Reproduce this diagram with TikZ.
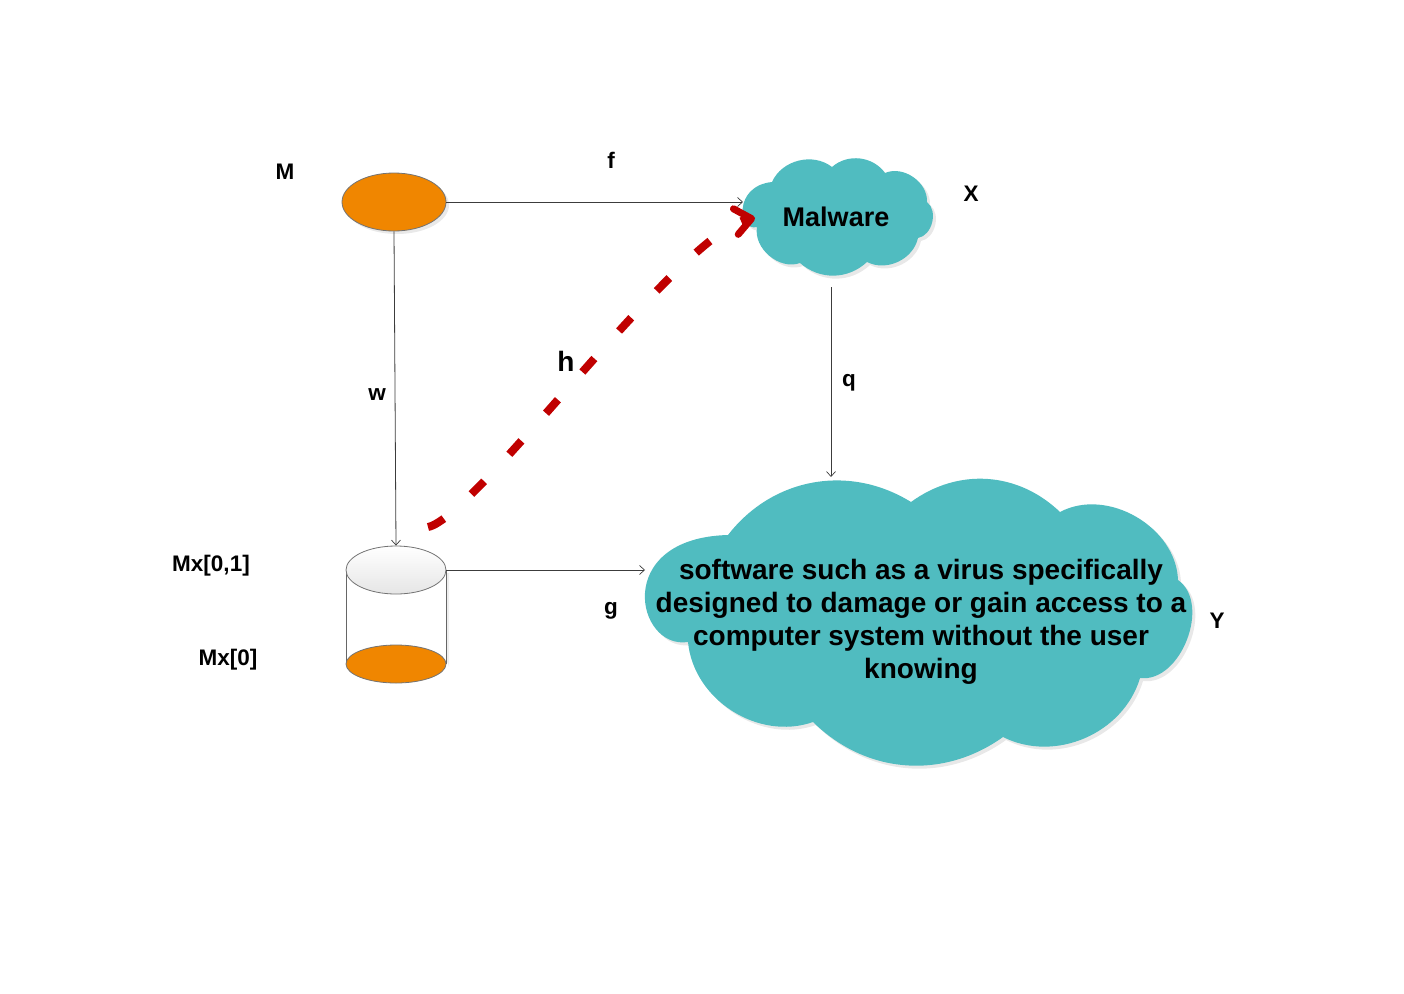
\documentclass[tikz,border=0pt]{standalone}
\usepackage{fontspec}
\setmainfont{Liberation Sans}
\usetikzlibrary{shapes.geometric,arrows.meta,shadows}
\definecolor{orng}{RGB}{240,134,0}
\definecolor{tealc}{RGB}{80,188,192}
\definecolor{dred}{RGB}{192,0,0}
\definecolor{lnc}{RGB}{60,60,60}
\newcommand\bigcloudpath{(728,535) to[bend left=42] (911,502) to[bend left=40] (1060,512)
  to[bend left=58] (1178,580) to[bend left=76] (1140,678) to[bend left=50] (1003,737)
  to[bend left=40] (813,722) to[bend left=52] (688,642) .. controls (636,650) and (612,538) .. cycle}
\newcommand\malcloudpath{(772,182) to[bend left=52] (832,167) to[bend left=48] (885,173)
  to[bend left=58] (927,202) to[bend left=66] (918,238) to[bend left=52] (867,262)
  to[bend left=42] (800,263) to[bend left=60] (757,227) .. controls (738,232) and (733,186) .. cycle}
\tikzset{
  lbl/.style={font=\fontsize{22.5}{26}\selectfont\bfseries, inner sep=0pt},
  conn/.style={draw=lnc, line width=0.8pt, -{Straight Barb[length=5pt,width=9pt,line width=0.7pt]}},
  cloudfill/.style={fill=tealc},
  cloudshadow/.style={fill=black!18, opacity=0.5},
  oval/.style={ellipse, draw=black!55, line width=0.8pt, fill=orng,
     drop shadow={shadow xshift=3pt, shadow yshift=-3pt, fill=black!25, opacity=0.35}},
}
\begin{document}
\begin{tikzpicture}[x=1pt,y=-1pt]
\useasboundingbox (0,0) rectangle (1404,993);
% M ellipse
\node[oval, minimum width=104, minimum height=58, inner sep=0pt] (m) at (394,202) {};
% Malware cloud
\fill[cloudshadow, shift={(3,3)}] \malcloudpath;
\fill[cloudfill] \malcloudpath;
\node[font=\fontsize{27}{32}\selectfont\bfseries, inner sep=0pt] (mal) at (836,217) {Malware};
% Big cloud
\fill[cloudshadow, shift={(3,3)}] \bigcloudpath;
\fill[cloudfill] \bigcloudpath;
\node[inner sep=0pt, align=center, font=\fontsize{28}{33}\selectfont\bfseries] (big) at (921,622)
  {software such as a virus specifically\\designed to damage or gain access to a\\computer system without the user\\knowing};
% cylinder
\fill[black!20, opacity=0.35] (349,573) -- (349,667) arc[start angle=180,end angle=360,x radius=50,y radius=19] -- (449,573) -- cycle;
\fill[white] (346,570) -- (346,664) arc[start angle=180,end angle=360,x radius=50,y radius=19] -- (446,570) -- cycle;
\draw[black!60, line width=0.8pt] (346,570) -- (346,664) (446,570) -- (446,664);
\draw[black!55, line width=0.8pt, fill=orng] (396,664) ellipse[x radius=50, y radius=19];
\node[ellipse, minimum width=100, minimum height=48, inner sep=0pt, draw=black!55, line width=0.8pt,
  top color=white, bottom color=black!10] (cyl) at (396,570) {};
% connector end points on the cloud outlines
\coordinate (malW) at (743,202);
\coordinate (malS) at (831,287);
\coordinate (bigN) at (831,477);
\coordinate (bigW) at (645,570);
% connectors
\draw[conn] (m.east) -- (malW);
\draw[conn] (m.south) -- (cyl.north);
\draw[conn] (cyl.east) -- (bigW);
\draw[conn] (malS) -- (bigN);
% red dashed
\coordinate (hs) at (428,527);
\coordinate (he) at (755,218);
\draw[dred, line width=8pt, dash pattern=on 18pt off 37pt,
  -{Straight Barb[length=16pt,width=26pt,round,line width=7pt]}]
  (hs) .. controls (475,518) and (680,232) .. (he);
% labels
\node[lbl] (lM) at (285,172) {M};
\node[lbl] (lf) at (611,160) {f};
\node[lbl] (lX) at (971,194) {X};
\node[lbl] (lw) at (377,395) {w};
\node[lbl] (lq) at (849,383) {q};
\node[lbl, font=\fontsize{28}{30}\selectfont\bfseries] (lh) at (566,361) {h};
\node[lbl] (lMx1) at (211,566) {Mx[0,1]};
\node[lbl] (lMx0) at (228,660) {Mx[0]};
\node[lbl] (lg) at (611,611) {g};
\node[lbl] (lY) at (1217,621) {Y};
\end{tikzpicture}
\end{document}
